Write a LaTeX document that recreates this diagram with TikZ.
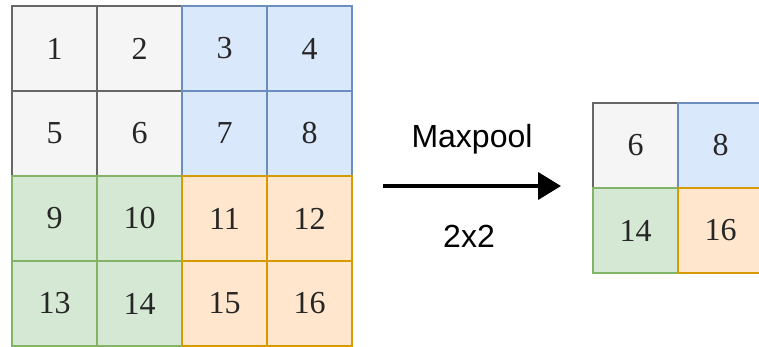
\documentclass[tikz,border=0pt]{standalone}
\usepackage{fontspec}
\setmainfont{Liberation Serif}
\newfontfamily\labelfont{Liberation Sans}
\usetikzlibrary{arrows.meta}
\definecolor{gfill}{HTML}{F5F5F5}\definecolor{gline}{HTML}{666666}
\definecolor{bfill}{HTML}{DAE8FC}\definecolor{bline}{HTML}{6C8EBF}
\definecolor{nfill}{HTML}{D5E8D4}\definecolor{nline}{HTML}{82B366}
\definecolor{ofill}{HTML}{FFE6CC}\definecolor{oline}{HTML}{D79B00}
\tikzset{
  cell/.style={rectangle, minimum width=85pt, minimum height=85pt, inner sep=0pt, outer sep=0pt,
    anchor=north west, line width=1.2pt, font=\fontsize{32}{32}\selectfont, text=black!85},
  gray/.style={cell, fill=gfill, draw=gline},
  blue/.style={cell, fill=bfill, draw=bline},
  green/.style={cell, fill=nfill, draw=nline},
  orange/.style={cell, fill=ofill, draw=oline},
  lbl/.style={font=\labelfont\fontsize{32}{32}\selectfont, text=black, anchor=base, inner sep=0pt},
}
\begin{document}
\begin{tikzpicture}[x=1pt,y=-1pt]
\useasboundingbox (0,0) rectangle (759,347);
\clip (0,0) rectangle (759,347);
% left grid
\node[gray]   (c1)  at (12,6)   {1};
\node[gray]   (c2)  at (97,6)   {2};
\node[gray]   (c5)  at (12,91)  {5};
\node[gray]   (c6)  at (97,91)  {6};
\node[blue]   (c3)  at (182,6)  {3};
\node[blue]   (c4)  at (267,6)  {4};
\node[blue]   (c7)  at (182,91) {7};
\node[blue]   (c8)  at (267,91) {8};
\node[green]  (c9)  at (12,176) {9};
\node[green]  (c10) at (97,176) {10};
\node[green]  (c13) at (12,261) {13};
\node[green]  (c14) at (97,261) {14};
\node[orange] (c11) at (182,176) {11};
\node[orange] (c12) at (267,176) {12};
\node[orange] (c15) at (182,261) {15};
\node[orange] (c16) at (267,261) {16};
% right grid
\node[gray]   (r6)  at (593,103) {6};
\node[blue]   (r8)  at (678,103) {8};
\node[green]  (r14) at (593,188) {14};
\node[orange] (r16) at (678,188) {16};
% arrow
\coordinate (as) at (383,186);
\coordinate (ae) at (561,186);
\draw[line width=4pt, -{Triangle[length=23pt,width=27pt]}] (as) -- (ae);
\node[lbl] (mp) at (472,148) {Maxpool};
\node[lbl] (sz) at (469,247) {2x2};
\end{tikzpicture}
\end{document}
